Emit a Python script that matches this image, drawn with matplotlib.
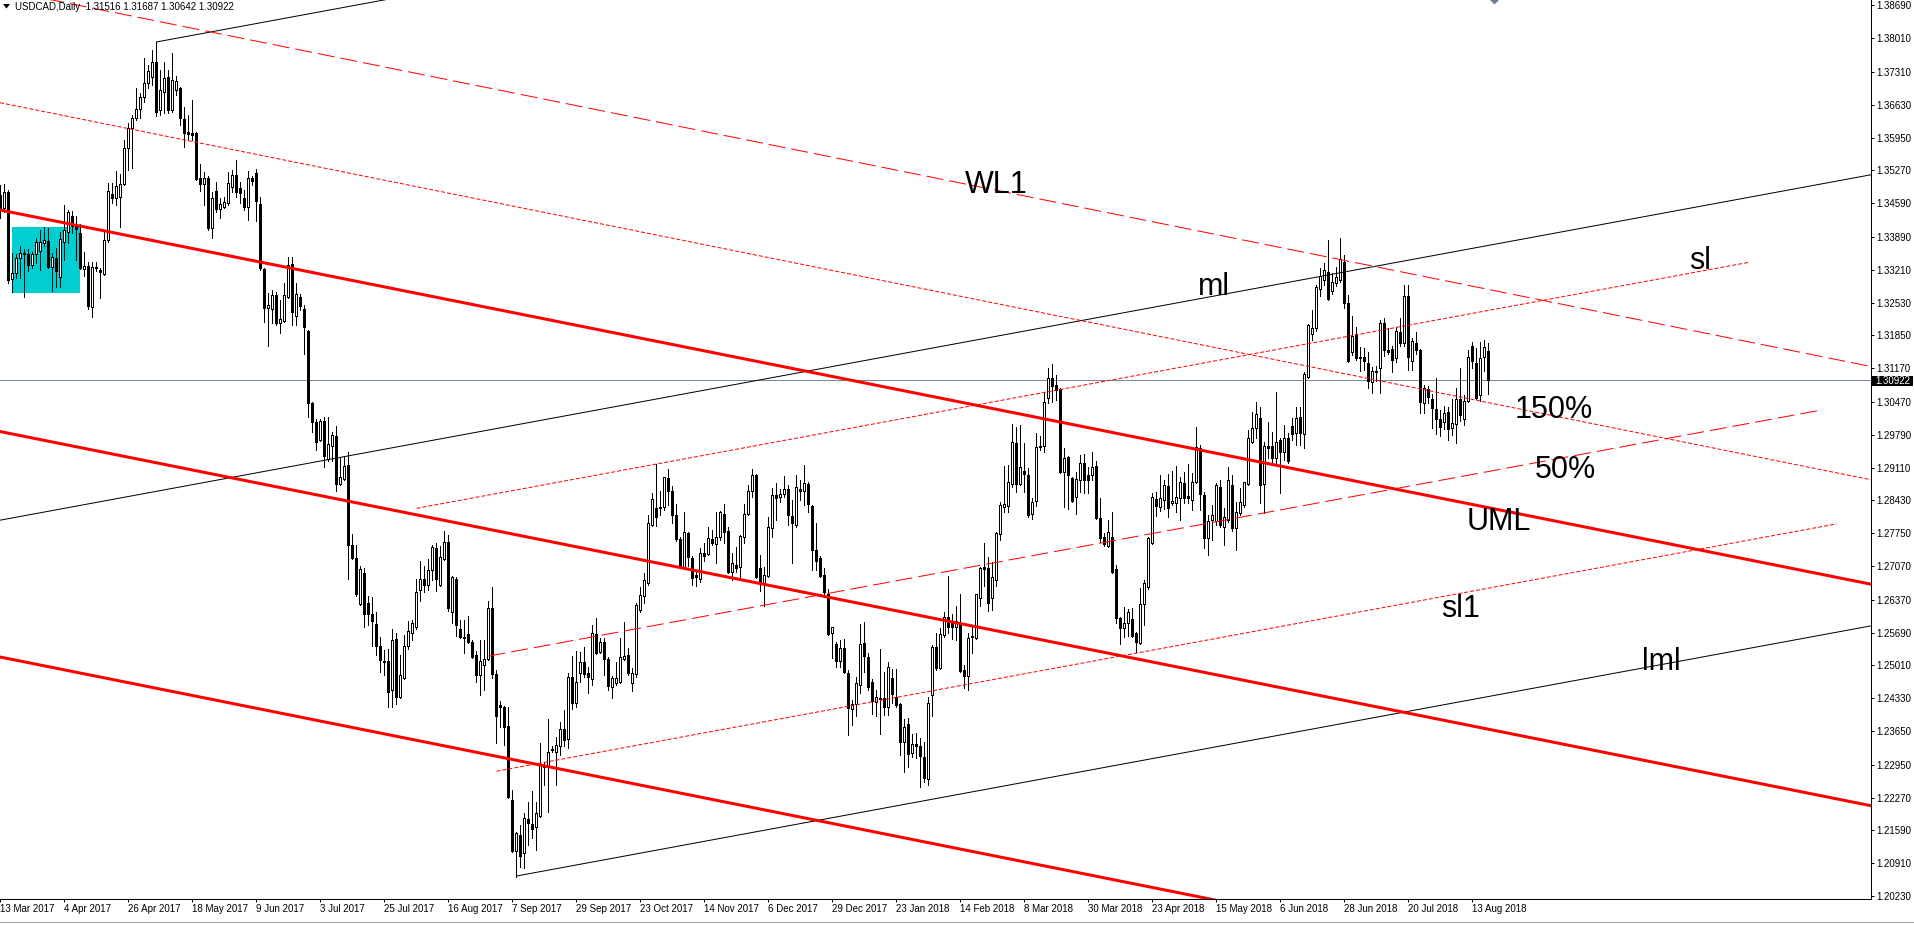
import matplotlib
matplotlib.use("Agg")
import matplotlib.pyplot as plt
from matplotlib.patches import Rectangle, Polygon

plt.rcParams['font.family'] = ['Liberation Sans', 'DejaVu Sans']

# ---------------- data (USDCAD daily, bar 0 = 13 Mar 2017) ----------------
OPEN = [
 1.3445, 1.3449, 1.3482, 1.3302, 1.3314, 1.3345, 1.3354, 1.3354, 1.3331, 1.3354,
 1.3360, 1.3376, 1.3381, 1.3327, 1.3345, 1.3306, 1.3378, 1.3399, 1.3432, 1.3412,
 1.3397, 1.3322, 1.3329, 1.3244, 1.3327, 1.3320, 1.3312, 1.3383, 1.3478, 1.3470,
 1.3472, 1.3499, 1.3573, 1.3615, 1.3635, 1.3654, 1.3679, 1.3708, 1.3720, 1.3752,
 1.3652, 1.3689, 1.3720, 1.3652, 1.3693, 1.3698, 1.3633, 1.3606, 1.3604, 1.3604,
 1.3511, 1.3499, 1.3511, 1.3407, 1.3484, 1.3447, 1.3451, 1.3459, 1.3492, 1.3517,
 1.3490, 1.3470, 1.3451, 1.3511, 1.3521, 1.3457, 1.3322, 1.3242, 1.3240, 1.3269,
 1.3211, 1.3215, 1.3264, 1.3333, 1.3225, 1.3264, 1.3240, 1.3194, 1.3045, 1.3005,
 1.2968, 1.3007, 1.2929, 1.2956, 1.2976, 1.2877, 1.2887, 1.2916, 1.2750, 1.2724,
 1.2628, 1.2692, 1.2630, 1.2607, 1.2587, 1.2541, 1.2510, 1.2510, 1.2450, 1.2556,
 1.2435, 1.2475, 1.2541, 1.2568, 1.2581, 1.2657, 1.2680, 1.2668, 1.2699, 1.2744,
 1.2668, 1.2721, 1.2757, 1.2612, 1.2680, 1.2576, 1.2560, 1.2566, 1.2549, 1.2523,
 1.2481, 1.2502, 1.2514, 1.2620, 1.2483, 1.2419, 1.2415, 1.2375, 1.2222, 1.2116,
 1.2149, 1.2112, 1.2183, 1.2172, 1.2166, 1.2189, 1.2291, 1.2291, 1.2328, 1.2321,
 1.2334, 1.2369, 1.2348, 1.2477, 1.2424, 1.2485, 1.2508, 1.2485, 1.2473, 1.2566,
 1.2529, 1.2549, 1.2514, 1.2456, 1.2465, 1.2467, 1.2514, 1.2523, 1.2465, 1.2483,
 1.2616, 1.2645, 1.2672, 1.2792, 1.2827, 1.2827, 1.2829, 1.2889, 1.2862, 1.2813,
 1.2763, 1.2705, 1.2775, 1.2724, 1.2688, 1.2680, 1.2734, 1.2732, 1.2763, 1.2753,
 1.2767, 1.2814, 1.2779, 1.2694, 1.2709, 1.2705, 1.2767, 1.2814, 1.2862, 1.2896,
 1.2703, 1.2672, 1.2686, 1.2786, 1.2854, 1.2850, 1.2856, 1.2866, 1.2811, 1.2792,
 1.2866, 1.2862, 1.2877, 1.2832, 1.2740, 1.2724, 1.2688, 1.2649, 1.2569, 1.2545,
 1.2510, 1.2537, 1.2485, 1.2410, 1.2421, 1.2460, 1.2547, 1.2518, 1.2467, 1.2425,
 1.2431, 1.2433, 1.2415, 1.2475, 1.2436, 1.2421, 1.2342, 1.2380, 1.2319, 1.2338,
 1.2334, 1.2311, 1.2266, 1.2440, 1.2539, 1.2496, 1.2564, 1.2602, 1.2589, 1.2581,
 1.2589, 1.2491, 1.2479, 1.2562, 1.2558, 1.2641, 1.2705, 1.2703, 1.2641, 1.2678,
 1.2773, 1.2829, 1.2832, 1.2877, 1.2962, 1.2877, 1.2904, 1.2895, 1.2815, 1.2842,
 1.2953, 1.2956, 1.3055, 1.3097, 1.3082, 1.3074, 1.2902, 1.2933, 1.2889, 1.2850,
 1.2885, 1.2920, 1.2895, 1.2895, 1.2914, 1.2807, 1.2767, 1.2748, 1.2767, 1.2701,
 1.2599, 1.2579, 1.2589, 1.2597, 1.2569, 1.2547, 1.2628, 1.2663, 1.2755, 1.2846,
 1.2829, 1.2844, 1.2873, 1.2838, 1.2838, 1.2848, 1.2879, 1.2852, 1.2844, 1.2881,
 1.2951, 1.2854, 1.2765, 1.2802, 1.2800, 1.2871, 1.2788, 1.2802, 1.2875, 1.2786,
 1.2817, 1.2834, 1.2877, 1.2964, 1.2993, 1.3014, 1.2877, 1.2956, 1.2956, 1.2931,
 1.2968, 1.2943, 1.2972, 1.2997, 1.2983, 1.3016, 1.2981, 1.3099, 1.3188, 1.3200,
 1.3281, 1.3300, 1.3316, 1.3277, 1.3293, 1.3300, 1.3337, 1.3252, 1.3150, 1.3188,
 1.3140, 1.3140, 1.3128, 1.3088, 1.3109, 1.3117, 1.3211, 1.3155, 1.3157, 1.3138,
 1.3192, 1.3169, 1.3266, 1.3132, 1.3169, 1.3155, 1.3045, 1.3074, 1.3053, 1.3032,
 1.3012, 1.3005, 1.3026, 1.2993, 1.3001, 1.3053, 1.3012, 1.3049, 1.3163, 1.3128,
 1.3062, 1.3140, 1.31516]

HIGH = [
 1.3497, 1.3499, 1.3486, 1.3356, 1.3354, 1.3370, 1.3364, 1.3364, 1.3358, 1.3387,
 1.3403, 1.3410, 1.3407, 1.3356, 1.3366, 1.3399, 1.3455, 1.3445, 1.3443, 1.3432,
 1.3416, 1.3358, 1.3337, 1.3337, 1.3337, 1.3325, 1.3399, 1.3501, 1.3501, 1.3526,
 1.3519, 1.3590, 1.3625, 1.3642, 1.3698, 1.3687, 1.3760, 1.3745, 1.3776, 1.3793,
 1.3735, 1.3752, 1.3735, 1.3770, 1.3722, 1.3700, 1.3658, 1.3642, 1.3673, 1.3606,
 1.3540, 1.3524, 1.3515, 1.3482, 1.3503, 1.3470, 1.3472, 1.3524, 1.3528, 1.3548,
 1.3503, 1.3486, 1.3526, 1.3515, 1.3530, 1.3472, 1.3325, 1.3273, 1.3279, 1.3275,
 1.3258, 1.3293, 1.3347, 1.3347, 1.3293, 1.3271, 1.3248, 1.3196, 1.3047, 1.3012,
 1.3012, 1.3016, 1.3016, 1.2985, 1.2997, 1.2933, 1.2933, 1.2943, 1.2773, 1.2750,
 1.2707, 1.2703, 1.2645, 1.2643, 1.2612, 1.2560, 1.2533, 1.2535, 1.2576, 1.2568,
 1.2523, 1.2564, 1.2593, 1.2595, 1.2680, 1.2717, 1.2707, 1.2721, 1.2750, 1.2755,
 1.2748, 1.2780, 1.2771, 1.2686, 1.2684, 1.2595, 1.2595, 1.2603, 1.2554, 1.2531,
 1.2554, 1.2554, 1.2635, 1.2663, 1.2491, 1.2427, 1.2417, 1.2415, 1.2243, 1.2156,
 1.2170, 1.2195, 1.2218, 1.2241, 1.2218, 1.2340, 1.2301, 1.2390, 1.2334, 1.2353,
 1.2384, 1.2408, 1.2485, 1.2521, 1.2531, 1.2529, 1.2539, 1.2498, 1.2585, 1.2599,
 1.2558, 1.2558, 1.2518, 1.2479, 1.2508, 1.2558, 1.2591, 1.2537, 1.2496, 1.2630,
 1.2663, 1.2692, 1.2813, 1.2858, 1.2918, 1.2862, 1.2891, 1.2908, 1.2872, 1.2836,
 1.2767, 1.2818, 1.2777, 1.2728, 1.2694, 1.2744, 1.2755, 1.2788, 1.2781, 1.2818,
 1.2820, 1.2835, 1.2788, 1.2734, 1.2746, 1.2771, 1.2835, 1.2875, 1.2908, 1.2898,
 1.2730, 1.2705, 1.2808, 1.2869, 1.2879, 1.2866, 1.2893, 1.2875, 1.2844, 1.2896,
 1.2885, 1.2916, 1.2881, 1.2834, 1.2796, 1.2728, 1.2703, 1.2659, 1.2581, 1.2550,
 1.2554, 1.2556, 1.2491, 1.2429, 1.2477, 1.2587, 1.2591, 1.2527, 1.2473, 1.2450,
 1.2535, 1.2487, 1.2508, 1.2494, 1.2494, 1.2423, 1.2390, 1.2392, 1.2359, 1.2361,
 1.2350, 1.2342, 1.2436, 1.2543, 1.2569, 1.2579, 1.2612, 1.2686, 1.2607, 1.2624,
 1.2649, 1.2502, 1.2569, 1.2583, 1.2649, 1.2705, 1.2755, 1.2726, 1.2715, 1.2777,
 1.2840, 1.2914, 1.2916, 1.3001, 1.2995, 1.2999, 1.2962, 1.2910, 1.2848, 1.2983,
 1.2976, 1.3066, 1.3117, 1.3126, 1.3103, 1.3076, 1.2952, 1.2935, 1.2891, 1.2902,
 1.2937, 1.2939, 1.2912, 1.2943, 1.2925, 1.2848, 1.2775, 1.2802, 1.2819, 1.2709,
 1.2601, 1.2622, 1.2618, 1.2620, 1.2571, 1.2661, 1.2678, 1.2767, 1.2858, 1.2860,
 1.2896, 1.2885, 1.2898, 1.2904, 1.2914, 1.2891, 1.2902, 1.2918, 1.2900, 1.2995,
 1.2958, 1.2860, 1.2813, 1.2834, 1.2879, 1.2885, 1.2827, 1.2912, 1.2895, 1.2840,
 1.2869, 1.2881, 1.2989, 1.3026, 1.3047, 1.3036, 1.2964, 1.3005, 1.2985, 1.3068,
 1.2972, 1.2999, 1.2983, 1.3014, 1.3036, 1.3036, 1.3109, 1.3209, 1.3238, 1.3289,
 1.3325, 1.3335, 1.3383, 1.3314, 1.3327, 1.3387, 1.3351, 1.3269, 1.3225, 1.3202,
 1.3161, 1.3159, 1.3150, 1.3119, 1.3121, 1.3217, 1.3221, 1.3200, 1.3163, 1.3202,
 1.3221, 1.3289, 1.3289, 1.3180, 1.3192, 1.3157, 1.3082, 1.3080, 1.3064, 1.3097,
 1.3030, 1.3038, 1.3036, 1.3053, 1.3076, 1.3117, 1.3062, 1.3155, 1.3171, 1.3159,
 1.3171, 1.3175, 1.31687]

LOW = [
 1.3428, 1.3441, 1.3293, 1.3275, 1.3304, 1.3304, 1.3264, 1.3318, 1.3325, 1.3335,
 1.3320, 1.3370, 1.3325, 1.3277, 1.3285, 1.3285, 1.3341, 1.3376, 1.3397, 1.3341,
 1.3322, 1.3308, 1.3240, 1.3223, 1.3318, 1.3262, 1.3310, 1.3378, 1.3459, 1.3455,
 1.3410, 1.3497, 1.3528, 1.3532, 1.3631, 1.3635, 1.3669, 1.3698, 1.3704, 1.3640,
 1.3642, 1.3646, 1.3646, 1.3648, 1.3683, 1.3621, 1.3575, 1.3590, 1.3590, 1.3507,
 1.3484, 1.3455, 1.3403, 1.3387, 1.3441, 1.3428, 1.3449, 1.3455, 1.3482, 1.3472,
 1.3459, 1.3445, 1.3424, 1.3497, 1.3422, 1.3320, 1.3213, 1.3163, 1.3211, 1.3206,
 1.3190, 1.3213, 1.3262, 1.3206, 1.3206, 1.3238, 1.3146, 1.3016, 1.2985, 1.2947,
 1.2966, 1.2912, 1.2925, 1.2925, 1.2862, 1.2875, 1.2885, 1.2680, 1.2721, 1.2645,
 1.2626, 1.2581, 1.2585, 1.2541, 1.2523, 1.2487, 1.2481, 1.2415, 1.2415, 1.2421,
 1.2433, 1.2473, 1.2535, 1.2554, 1.2576, 1.2634, 1.2653, 1.2657, 1.2677, 1.2655,
 1.2666, 1.2719, 1.2614, 1.2589, 1.2562, 1.2558, 1.2527, 1.2547, 1.2516, 1.2467,
 1.2440, 1.2450, 1.2512, 1.2475, 1.2340, 1.2373, 1.2336, 1.2226, 1.2114, 1.2062,
 1.2083, 1.2081, 1.2129, 1.2143, 1.2118, 1.2187, 1.2253, 1.2197, 1.2321, 1.2253,
 1.2315, 1.2334, 1.2330, 1.2411, 1.2415, 1.2467, 1.2477, 1.2444, 1.2460, 1.2525,
 1.2527, 1.2481, 1.2450, 1.2433, 1.2460, 1.2465, 1.2512, 1.2481, 1.2448, 1.2477,
 1.2612, 1.2630, 1.2668, 1.2790, 1.2790, 1.2813, 1.2823, 1.2833, 1.2796, 1.2759,
 1.2703, 1.2703, 1.2707, 1.2668, 1.2666, 1.2674, 1.2718, 1.2730, 1.2750, 1.2714,
 1.2761, 1.2755, 1.2692, 1.2678, 1.2694, 1.2680, 1.2755, 1.2813, 1.2850, 1.2682,
 1.2655, 1.2624, 1.2684, 1.2767, 1.2802, 1.2840, 1.2850, 1.2792, 1.2714, 1.2788,
 1.2844, 1.2833, 1.2819, 1.2699, 1.2699, 1.2684, 1.2643, 1.2564, 1.2516, 1.2498,
 1.2498, 1.2485, 1.2356, 1.2377, 1.2396, 1.2444, 1.2487, 1.2450, 1.2400, 1.2396,
 1.2359, 1.2398, 1.2398, 1.2423, 1.2415, 1.2315, 1.2280, 1.2290, 1.2311, 1.2309,
 1.2249, 1.2259, 1.2253, 1.2396, 1.2491, 1.2494, 1.2560, 1.2569, 1.2556, 1.2554,
 1.2487, 1.2454, 1.2450, 1.2527, 1.2556, 1.2624, 1.2666, 1.2614, 1.2616, 1.2666,
 1.2761, 1.2819, 1.2819, 1.2871, 1.2860, 1.2875, 1.2860, 1.2809, 1.2804, 1.2831,
 1.2947, 1.2943, 1.3045, 1.3047, 1.3051, 1.2900, 1.2829, 1.2825, 1.2840, 1.2815,
 1.2860, 1.2858, 1.2858, 1.2885, 1.2804, 1.2757, 1.2748, 1.2746, 1.2692, 1.2589,
 1.2545, 1.2560, 1.2562, 1.2560, 1.2529, 1.2545, 1.2585, 1.2659, 1.2753, 1.2811,
 1.2821, 1.2825, 1.2809, 1.2834, 1.2819, 1.2802, 1.2838, 1.2838, 1.2823, 1.2879,
 1.2823, 1.2744, 1.2730, 1.2761, 1.2792, 1.2788, 1.2750, 1.2798, 1.2779, 1.2740,
 1.2813, 1.2829, 1.2875, 1.2962, 1.2972, 1.2838, 1.2817, 1.2931, 1.2923, 1.2916,
 1.2858, 1.2927, 1.2921, 1.2968, 1.2958, 1.2958, 1.2952, 1.3097, 1.3175, 1.3194,
 1.3266, 1.3289, 1.3258, 1.3271, 1.3287, 1.3295, 1.3242, 1.3130, 1.3144, 1.3134,
 1.3111, 1.3113, 1.3076, 1.3066, 1.3090, 1.3066, 1.3142, 1.3146, 1.3109, 1.3130,
 1.3163, 1.3163, 1.3113, 1.3113, 1.3146, 1.3024, 1.3024, 1.3045, 1.2993, 1.2981,
 1.2976, 1.2991, 1.2968, 1.2978, 1.2962, 1.3007, 1.2999, 1.3047, 1.3117, 1.3053,
 1.3049, 1.3111, 1.30642]

CLOSE = [
 1.3476, 1.3482, 1.3300, 1.3314, 1.3345, 1.3356, 1.3356, 1.3331, 1.3354, 1.3378,
 1.3378, 1.3383, 1.3327, 1.3347, 1.3318, 1.3385, 1.3403, 1.3441, 1.3412, 1.3405,
 1.3325, 1.3329, 1.3246, 1.3327, 1.3325, 1.3316, 1.3383, 1.3484, 1.3470, 1.3495,
 1.3499, 1.3573, 1.3615, 1.3635, 1.3654, 1.3679, 1.3708, 1.3733, 1.3752, 1.3648,
 1.3693, 1.3718, 1.3652, 1.3714, 1.3712, 1.3635, 1.3604, 1.3602, 1.3600, 1.3509,
 1.3499, 1.3511, 1.3407, 1.3470, 1.3447, 1.3457, 1.3461, 1.3501, 1.3517, 1.3482,
 1.3480, 1.3451, 1.3511, 1.3505, 1.3463, 1.3325, 1.3242, 1.3248, 1.3269, 1.3211,
 1.3219, 1.3269, 1.3331, 1.3233, 1.3271, 1.3246, 1.3202, 1.3045, 1.3005, 1.2964,
 1.3007, 1.2935, 1.2960, 1.2978, 1.2877, 1.2891, 1.2914, 1.2750, 1.2724, 1.2649,
 1.2701, 1.2607, 1.2607, 1.2593, 1.2541, 1.2512, 1.2508, 1.2446, 1.2554, 1.2435,
 1.2481, 1.2541, 1.2573, 1.2589, 1.2653, 1.2680, 1.2668, 1.2699, 1.2746, 1.2680,
 1.2726, 1.2757, 1.2620, 1.2684, 1.2585, 1.2560, 1.2558, 1.2549, 1.2518, 1.2481,
 1.2510, 1.2514, 1.2620, 1.2483, 1.2396, 1.2415, 1.2373, 1.2228, 1.2116, 1.2154,
 1.2106, 1.2185, 1.2174, 1.2162, 1.2195, 1.2295, 1.2295, 1.2321, 1.2326, 1.2336,
 1.2369, 1.2346, 1.2477, 1.2424, 1.2467, 1.2508, 1.2483, 1.2477, 1.2569, 1.2527,
 1.2549, 1.2514, 1.2458, 1.2475, 1.2475, 1.2518, 1.2520, 1.2485, 1.2485, 1.2626,
 1.2647, 1.2677, 1.2796, 1.2846, 1.2809, 1.2829, 1.2891, 1.2862, 1.2813, 1.2763,
 1.2705, 1.2777, 1.2726, 1.2682, 1.2684, 1.2734, 1.2728, 1.2765, 1.2755, 1.2767,
 1.2818, 1.2777, 1.2694, 1.2714, 1.2703, 1.2769, 1.2814, 1.2862, 1.2896, 1.2684,
 1.2671, 1.2688, 1.2788, 1.2854, 1.2848, 1.2856, 1.2866, 1.2813, 1.2796, 1.2871,
 1.2862, 1.2879, 1.2836, 1.2740, 1.2717, 1.2686, 1.2653, 1.2566, 1.2581, 1.2510,
 1.2537, 1.2487, 1.2413, 1.2421, 1.2464, 1.2545, 1.2521, 1.2456, 1.2427, 1.2436,
 1.2433, 1.2415, 1.2498, 1.2442, 1.2419, 1.2342, 1.2373, 1.2317, 1.2338, 1.2334,
 1.2313, 1.2268, 1.2423, 1.2539, 1.2496, 1.2566, 1.2602, 1.2581, 1.2581, 1.2593,
 1.2489, 1.2479, 1.2558, 1.2560, 1.2649, 1.2703, 1.2701, 1.2630, 1.2684, 1.2775,
 1.2834, 1.2836, 1.2881, 1.2964, 1.2877, 1.2912, 1.2898, 1.2813, 1.2840, 1.2953,
 1.2956, 1.3047, 1.3097, 1.3080, 1.3072, 1.2902, 1.2931, 1.2896, 1.2842, 1.2887,
 1.2920, 1.2885, 1.2885, 1.2912, 1.2807, 1.2765, 1.2752, 1.2777, 1.2694, 1.2599,
 1.2579, 1.2589, 1.2612, 1.2562, 1.2549, 1.2628, 1.2672, 1.2765, 1.2850, 1.2832,
 1.2848, 1.2875, 1.2827, 1.2842, 1.2850, 1.2881, 1.2848, 1.2848, 1.2881, 1.2953,
 1.2856, 1.2765, 1.2800, 1.2813, 1.2875, 1.2792, 1.2809, 1.2885, 1.2786, 1.2819,
 1.2840, 1.2881, 1.2972, 1.2993, 1.3022, 1.2875, 1.2956, 1.2952, 1.2931, 1.2964,
 1.2943, 1.2972, 1.2925, 1.2981, 1.3014, 1.2983, 1.3105, 1.3206, 1.3200, 1.3285,
 1.3308, 1.3320, 1.3260, 1.3295, 1.3306, 1.3343, 1.3252, 1.3132, 1.3184, 1.3138,
 1.3138, 1.3132, 1.3090, 1.3111, 1.3111, 1.3211, 1.3155, 1.3150, 1.3134, 1.3194,
 1.3169, 1.3266, 1.3140, 1.3173, 1.3155, 1.3047, 1.3076, 1.3057, 1.3034, 1.3012,
 1.2995, 1.3024, 1.2991, 1.3003, 1.3053, 1.3020, 1.3049, 1.3140, 1.3132, 1.3055,
 1.3138, 1.3161, 1.30922]

if not (len(OPEN) == len(HIGH) == len(LOW) == len(CLOSE)):
    raise ValueError("length mismatch %d %d %d %d" % (len(OPEN), len(HIGH), len(LOW), len(CLOSE)))

DATE_LABELS = ["13 Mar 2017", "4 Apr 2017", "26 Apr 2017", "18 May 2017", "9 Jun 2017",
               "3 Jul 2017", "25 Jul 2017", "16 Aug 2017", "7 Sep 2017", "29 Sep 2017",
               "23 Oct 2017", "14 Nov 2017", "6 Dec 2017", "29 Dec 2017", "23 Jan 2018",
               "14 Feb 2018", "8 Mar 2018", "30 Mar 2018", "23 Apr 2018", "15 May 2018",
               "6 Jun 2018", "28 Jun 2018", "20 Jul 2018", "13 Aug 2018"]
DATE_STEP = 16  # one label every 16 bars

PRICE_TICKS = [1.38690, 1.38010, 1.37310, 1.36630, 1.35950, 1.35270, 1.34590, 1.33890,
               1.33210, 1.32530, 1.31850, 1.31170, 1.30470, 1.29790, 1.29110, 1.28430,
               1.27750, 1.27070, 1.26370, 1.25690, 1.25010, 1.24330, 1.23650, 1.22950,
               1.22270, 1.21590, 1.20910, 1.20230]

SYMBOL_TITLE = "USDCAD,Daily  1.31516 1.31687 1.30642 1.30922"
LAST_PRICE = 1.30922

# drawn objects: anchors as (bar, price)
ML_LINE = [(0, 1.28021), (400, 1.34143)]
UPPER_LINE = [(39, 1.37930), (139, 1.39461)]
LML_LINE = [(129, 1.20645), (229, 1.22176)]
UML_LINE = [(0, 1.34446), (400, 1.27814)]
RED2_LINE = [(0, 1.29855), (400, 1.23223)]
RED3_LINE = [(0, 1.25182), (400, 1.18550)]
WL1_LINE = [(0, 1.39016), (400, 1.32334)]
F150_LINE = [(0, 1.36669), (400, 1.29987)]
SL_SEG = [(104, 1.28265), (437, 1.33362)]
F50_SEG = [(122, 1.25203), (455, 1.30299)]
SL1_SEG = [(124, 1.22817), (459, 1.27942)]
BOX = [(3, 1.3409), (20, 1.3273)]

# ---------------- figure geometry ----------------
W, H, DPI = 1915, 925, 100
fig = plt.figure(figsize=(W / DPI, H / DPI), dpi=DPI)
fig.patch.set_facecolor('white')
AX_R, AX_B = 1871, 898.5
ax = fig.add_axes([0, 1 - AX_B / H, AX_R / W, AX_B / H])
ax.set_facecolor('white')
XMIN, XMAX = -0.125, 467.625
YMIN, YMAX = 1.20179, 1.38800
ax.set_xlim(XMIN, XMAX)
ax.set_ylim(YMIN, YMAX)

PX = 0.72  # one pixel in points

# rectangle (background)
(bx0, by0), (bx1, by1) = BOX
ax.add_patch(Rectangle((bx0, by1), bx1 - bx0, by0 - by1, facecolor='#00CED1',
                       edgecolor='none', zorder=1))

# current price line
ax.axhline(LAST_PRICE, color='#778899', lw=PX, zorder=1.5)

# candles
n = len(OPEN)
xs = list(range(n))
ax.vlines(xs, LOW, HIGH, color='black', lw=PX, zorder=2, antialiased=False)
bottoms = [min(o, c) for o, c in zip(OPEN, CLOSE)]
heights = [abs(c - o) for o, c in zip(OPEN, CLOSE)]
colors = ['white' if c >= o else 'black' for o, c in zip(OPEN, CLOSE)]
ax.bar(xs, heights, bottom=bottoms, width=0.5, color=colors, edgecolor='black',
       linewidth=PX, zorder=3, antialiased=False)


def draw(anchors, x0, x1, **kw):
    (xa, ya), (xb, yb) = anchors
    s = (yb - ya) / (xb - xa)
    ax.plot([x0, x1], [ya + s * (x0 - xa), ya + s * (x1 - xa)], zorder=4, **kw)


draw(ML_LINE, XMIN - 5, XMAX + 5, color='black', lw=PX)
draw(UPPER_LINE, UPPER_LINE[0][0], XMAX + 5, color='black', lw=PX)
draw(LML_LINE, LML_LINE[0][0], XMAX + 5, color='black', lw=PX)
for L in (UML_LINE, RED2_LINE, RED3_LINE):
    draw(L, XMIN - 5, XMAX + 5, color='#FF0000', lw=3 * PX, solid_capstyle='butt')
draw(WL1_LINE, XMIN, XMAX, color='#FF0000', lw=PX, linestyle=(0, (17, 6)))
draw(F150_LINE, XMIN, XMAX, color='#FF0000', lw=PX, linestyle=(0, (4, 2)))
draw(SL_SEG, SL_SEG[0][0], SL_SEG[1][0], color='#FF0000', lw=PX, linestyle=(0, (4, 2)))
draw(F50_SEG, F50_SEG[0][0], F50_SEG[1][0], color='#FF0000', lw=PX, linestyle=(0, (17, 6)))
draw(SL1_SEG, SL1_SEG[0][0], SL1_SEG[1][0], color='#FF0000', lw=PX, linestyle=(0, (4, 2)))

# object labels
LABELS = [("WL1", 241.1, 1.34800), ("ml", 299.4, 1.32686), ("sl", 422.1, 1.33219),
          ("150%", 378.6, 1.30131), ("50%", 383.6, 1.28887), ("UML", 366.6, 1.27816),
          ("sl1", 360.1, 1.26023), ("lml", 410.3, 1.24914)]
for txt, bx, by in LABELS:
    ax.text(bx, by, txt, fontsize=22, color='black', ha='left', va='baseline', zorder=5)

# axes styling
for s in ('left', 'top'):
    ax.spines[s].set_visible(False)
for s in ('right', 'bottom'):
    ax.spines[s].set_linewidth(PX)
    ax.spines[s].set_color('black')

ax.yaxis.tick_right()
ax.set_yticks(PRICE_TICKS)
ax.set_yticklabels(["%.5f" % v for v in PRICE_TICKS])
ax.tick_params(axis='y', which='both', right=True, left=False, labelright=True,
               labelleft=False, direction='out', length=3 * PX, width=PX, pad=1.5,
               labelsize=7, colors='black')

tick_bars = list(range(0, DATE_STEP * len(DATE_LABELS), DATE_STEP))
ax.set_xticks(tick_bars)
ax.set_xticklabels(DATE_LABELS)
ax.tick_params(axis='x', which='both', bottom=True, top=False, direction='out',
               length=3 * PX, width=PX, pad=1.5, labelsize=7, colors='black')
for lbl in ax.get_xticklabels():
    lbl.set_horizontalalignment('left')


def fx(px):
    return px / W


def fy(py):
    return 1 - py / H


# title and small markers
fig.text(fx(15), fy(7), SYMBOL_TITLE, fontsize=7, color='black', ha='left', va='center')
fig.patches.append(Polygon([(fx(3), fy(4)), (fx(10), fy(4)), (fx(6.5), fy(8.5))],
                           closed=True, transform=fig.transFigure, facecolor='black',
                           edgecolor='none'))
fig.patches.append(Polygon([(fx(1490), fy(0)), (fx(1499), fy(0)), (fx(1494.5), fy(4.5))],
                           closed=True, transform=fig.transFigure, facecolor='#6E7F94',
                           edgecolor='none'))

# last price tag on the axis
fig.patches.append(Rectangle((fx(1872), fy(386)), 41 / W, 10.5 / H, transform=fig.transFigure,
                             facecolor='black', edgecolor='none'))
fig.text(fx(1875.5), fy(380.8), "%.5f" % LAST_PRICE, fontsize=7, color='white',
         ha='left', va='center')

# bottom window strip
fig.add_artist(plt.Line2D([0, 1], [fy(921.5), fy(921.5)], transform=fig.transFigure,
                          color='#A0A0A0', lw=PX))

fig.savefig("out.png", dpi=DPI, facecolor='white')
